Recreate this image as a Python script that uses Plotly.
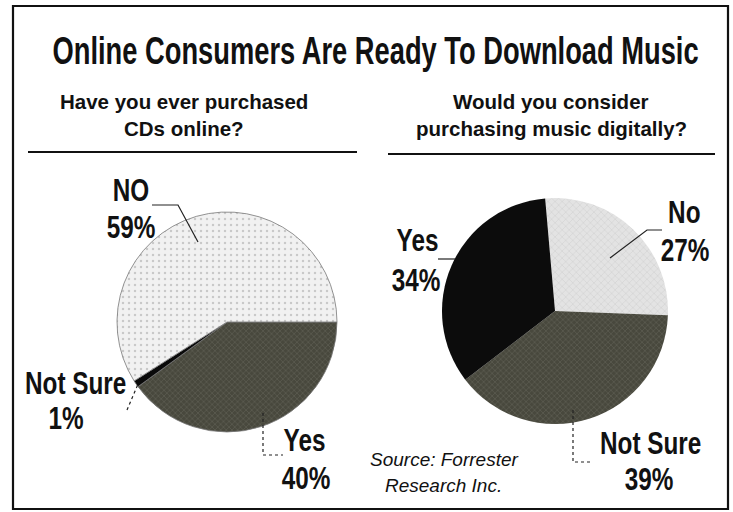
import json
import plotly.graph_objects as go

W, H = 733, 512

title_text = "Online Consumers Are Ready To Download Music"
left_question = ["Have you ever purchased", "CDs online?"]
right_question = ["Would you consider", "purchasing music digitally?"]
source_lines = ["Source: Forrester", "Research Inc."]

left_labels = ["Yes", "Not Sure", "NO"]
left_values = [40, 1, 59]
left_colors = ["#48483d", "#0a0a0a", "#f1f1f1"]

right_labels = ["No", "Not Sure", "Yes"]
right_values = [27, 39, 34]
right_colors = ["#e3e3e3", "#48483d", "#0c0c0c"]


def px(x):
    return x / W


def py(y):
    return 1 - y / H


def dom(cx, cy, r):
    return dict(x=[px(cx - r), px(cx + r)], y=[py(cy + r), py(cy - r)])


fig = go.Figure()

fig.add_trace(go.Pie(
    labels=left_labels, values=left_values, sort=False, direction="clockwise",
    rotation=90, textinfo="none", hoverinfo="label+percent", showlegend=False,
    domain=dom(227, 322, 110),
    marker=dict(colors=left_colors, line=dict(width=0.8, color="#777777"),
                pattern=dict(fillmode="overlay", shape=["x", "", "."],
                             fgcolor=["#707064", "#000000", "#a0a0a0"],
                             size=[4, 4, 6], solidity=[0.35, 0.3, 0.14])),
))

fig.add_trace(go.Pie(
    labels=right_labels, values=right_values, sort=False, direction="clockwise",
    rotation=-5, textinfo="none", hoverinfo="label+percent", showlegend=False,
    domain=dom(555, 311, 113),
    marker=dict(colors=right_colors, line=dict(width=0),
                pattern=dict(fillmode="overlay", shape=["x", "x", ""],
                             fgcolor=["#c2c2c2", "#707064", "#000000"],
                             size=[5, 4, 4], solidity=[0.25, 0.35, 0.3])),
))

SANS = "Liberation Sans, Arial, Helvetica, sans-serif"

ann = []
xscale = {}


def text(x, y, s, size, bold=True, italic=False, scale=None):
    t = s
    if bold:
        t = "<b>" + t + "</b>"
    if italic:
        t = "<i>" + t + "</i>"
    if scale is not None:
        xscale[str(len(ann))] = scale
    ann.append(dict(x=px(x), y=py(y), xref="paper", yref="paper", text=t, showarrow=False,
                    xanchor="center", yanchor="middle",
                    font=dict(family=SANS, size=size, color="#111111")))


text(375, 50, title_text, 39, scale=0.70)
text(184, 101, left_question[0], 20.5)
text(184, 128, left_question[1], 20.5)
text(551, 101, right_question[0], 20.5)
text(551, 128, right_question[1], 20.5)
text(444, 459, source_lines[0], 19, bold=False, italic=True)
text(444, 485, source_lines[1], 19, bold=False, italic=True)

LBL = 32
LSC = 0.76
lpos = {"NO": [(131, 190), (131, 227)], "Not Sure": [(75, 383), (66, 418)], "Yes": [(304, 440), (306, 478)]}
for lab, val in zip(left_labels, left_values):
    (x1, y1), (x2, y2) = lpos[lab]
    text(x1, y1, lab, LBL, scale=LSC)
    text(x2, y2, f"{val}%", LBL, scale=LSC)

rpos = {"No": [(684, 212), (685, 250)], "Not Sure": [(650, 443), (649, 479)], "Yes": [(417, 240), (416, 280)]}
for lab, val in zip(right_labels, right_values):
    (x1, y1), (x2, y2) = rpos[lab]
    text(x1, y1, lab, LBL, scale=LSC)
    text(x2, y2, f"{val}%", LBL, scale=LSC)

shapes = []


def path(points, width=1.2, dash="solid", color="#222222"):
    d = "M " + " L ".join(f"{px(x)},{py(y)}" for x, y in points)
    shapes.append(dict(type="path", path=d, xref="paper", yref="paper",
                       line=dict(color=color, width=width, dash=dash)))


shapes.append(dict(type="rect", xref="paper", yref="paper", x0=px(13), x1=px(728), y0=py(509), y1=py(6),
                   line=dict(color="#111111", width=2.2)))
path([(28, 152), (357, 152)], width=2.2, color="#111111")
path([(388, 154), (715, 154)], width=2.2, color="#111111")

path([(152, 205), (178, 205), (198, 242)])
path([(127, 410), (138, 384)], dash="dot")
path([(263, 413), (263, 455), (283, 455)], dash="dot")
path([(438, 259), (455, 259)])
path([(662, 230), (647, 230), (610, 258)])
path([(573, 410), (573, 462), (593, 462)], dash="dot")

fig.update_layout(
    width=W, height=H, margin=dict(l=0, r=0, t=0, b=0),
    paper_bgcolor="white", plot_bgcolor="white",
    annotations=ann, shapes=shapes,
)

post = """
document.body.style.margin = '0';
var gd = document.getElementById('{plot_id}');
var scales = SCALES;
gd.querySelectorAll('g.annotation').forEach(function (g) {
  var i = g.getAttribute('data-index');
  if (scales[i] !== undefined) {
    var t = g.querySelector('text.annotation-text');
    if (t) {
      t.style.transformBox = 'fill-box';
      t.style.transformOrigin = 'center';
      t.style.transform = 'scaleX(' + scales[i] + ')';
    }
  }
});
""".replace("SCALES", json.dumps(xscale))

fig.write_html("out.html", post_script=post, config={"displayModeBar": False})
